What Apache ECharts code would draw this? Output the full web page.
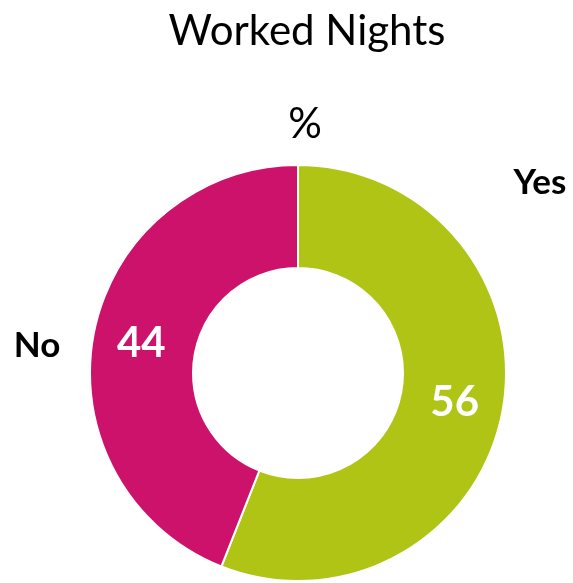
<!DOCTYPE html>
<html>
<head>
<meta charset="utf-8">
<style>
  html, body { margin: 0; padding: 0; background: #ffffff; }
  #chart { width: 573px; height: 583px; }
</style>
<script src="https://cdn.jsdelivr.net/npm/echarts@6/dist/echarts.min.js"></script>
</head>
<body>
<div id="chart"></div>
<script>
// Share of respondents who worked nights (%)
const categories = ['Yes', 'No'];
const values = [56, 44];
const colors = ['#AFC415', '#CC126A'];

const FONT = 'Lato, "Open Sans", sans-serif';

const chart = echarts.init(document.getElementById('chart'), null, { renderer: 'canvas' });

chart.setOption({
  backgroundColor: '#ffffff',
  animation: false,
  graphic: [
    { type: 'text', x: 307, y: 31,
      style: { text: 'Worked Nights', font: '42px ' + FONT, fill: '#000000', align: 'center', verticalAlign: 'middle' } },
    { type: 'text', x: 305, y: 124,
      style: { text: '%', font: '42px ' + FONT, fill: '#000000', align: 'center', verticalAlign: 'middle' } },
    { type: 'text', x: 540, y: 183,
      style: { text: categories[0], font: 'bold 35px ' + FONT, fill: '#000000', align: 'center', verticalAlign: 'middle' } },
    { type: 'text', x: 37, y: 346,
      style: { text: categories[1], font: 'bold 35px ' + FONT, fill: '#000000', align: 'center', verticalAlign: 'middle' } }
  ],
  series: [{
    type: 'pie',
    center: [298, 373],
    radius: [105, 208],
    startAngle: 90,
    clockwise: true,
    silent: true,
    itemStyle: { borderColor: '#ffffff', borderWidth: 2 },
    label: {
      show: true,
      position: 'inside',
      formatter: '{c}',
      color: '#ffffff',
      fontFamily: FONT,
      fontWeight: 'bold',
      fontSize: 42
    },
    labelLine: { show: false },
    data: categories.map((name, i) => ({ name, value: values[i], itemStyle: { color: colors[i] } }))
  }]
});
</script>
</body>
</html>
